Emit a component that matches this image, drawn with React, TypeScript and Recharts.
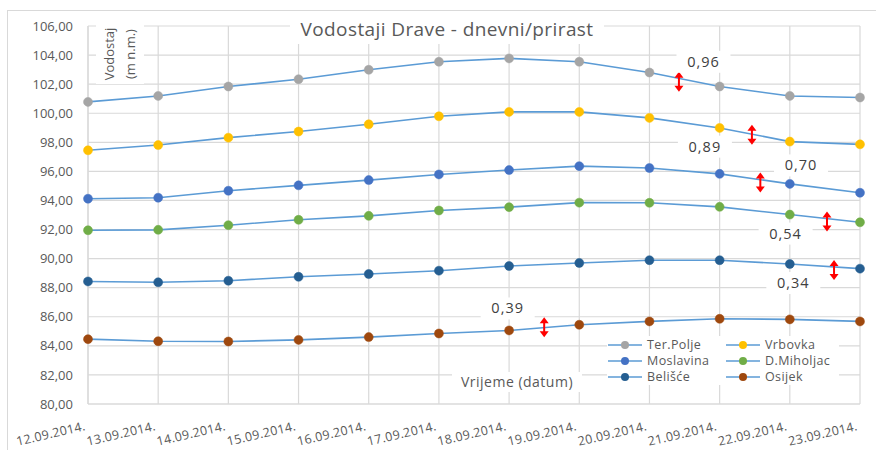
import React from 'react';
import { LineChart, Line, XAxis, YAxis, CartesianGrid, ReferenceDot } from 'recharts';

const dates = ['12.09.2014.', '13.09.2014.', '14.09.2014.', '15.09.2014.', '16.09.2014.', '17.09.2014.', '18.09.2014.', '19.09.2014.', '20.09.2014.', '21.09.2014.', '22.09.2014.', '23.09.2014.'];

const terPolje = [100.78, 101.19, 101.84, 102.34, 102.99, 103.54, 103.77, 103.54, 102.80, 101.84, 101.19, 101.08];
const vrbovka = [97.45, 97.81, 98.32, 98.74, 99.24, 99.79, 100.09, 100.09, 99.68, 98.99, 98.05, 97.86];
const moslavina = [94.12, 94.19, 94.67, 95.04, 95.40, 95.79, 96.09, 96.36, 96.23, 95.83, 95.14, 94.53];
const dMiholjac = [91.95, 91.98, 92.30, 92.67, 92.94, 93.31, 93.54, 93.85, 93.84, 93.56, 93.03, 92.50];
const belisce = [88.43, 88.37, 88.48, 88.75, 88.94, 89.17, 89.49, 89.70, 89.89, 89.89, 89.63, 89.31];
const osijek = [84.46, 84.32, 84.30, 84.41, 84.60, 84.85, 85.06, 85.45, 85.68, 85.86, 85.82, 85.68];

const yTicks = [80, 82, 84, 86, 88, 90, 92, 94, 96, 98, 100, 102, 104, 106];

const deltaLabels = ['0,96', '0,89', '0,70', '0,54', '0,34', '0,39'];
const arrowX = [8.42, 9.46, 9.58, 10.53, 10.63, 6.5];
const arrowY = [102.17, 98.52, 95.24, 92.55, 89.21, 85.28];
const labelX = [8.77, 8.79, 10.16, 9.94, 10.05, 5.98];
const labelY = [103.54, 97.7, 96.41, 91.72, 88.32, 86.57];

const series = [
  { key: 'terPolje', name: 'Ter.Polje', values: terPolje, color: '#A5A5A5' },
  { key: 'vrbovka', name: 'Vrbovka', values: vrbovka, color: '#FFC000' },
  { key: 'moslavina', name: 'Moslavina', values: moslavina, color: '#4472C4' },
  { key: 'dMiholjac', name: 'D.Miholjac', values: dMiholjac, color: '#70AD47' },
  { key: 'belisce', name: 'Belišće', values: belisce, color: '#255E91' },
  { key: 'osijek', name: 'Osijek', values: osijek, color: '#9E480E' },
];

const rows = dates.map((d, i) => {
  const r: Record<string, number | string> = { i, date: d };
  series.forEach((s) => {
    r[s.key] = s.values[i];
  });
  return r;
});

const LINE = '#5B9BD5';
const GRID = '#d9d9d9';
const TEXT = '#595959';
const FONT = '"Open Sans", sans-serif';

const XTick = (props: any) => {
  const { x, y, payload } = props;
  const tx = x - 2;
  const ty = y + 18;
  return (
    <text x={tx} y={ty} textAnchor="end" fill={TEXT} fontSize={12.5} fontFamily={FONT} letterSpacing={0.3} transform={`rotate(-13, ${tx}, ${ty})`}>
      {dates[payload.value]}
    </text>
  );
};

const Arrow = (props: any) => {
  const { cx, cy } = props;
  if (cx == null || cy == null) return null;
  const h = 10;
  return (
    <g>
      <line x1={cx} y1={cy - h + 4} x2={cx} y2={cy + h - 4} stroke="#FF0000" strokeWidth={2} />
      <polygon points={`${cx},${cy - h} ${cx - 4.5},${cy - h + 6} ${cx + 4.5},${cy - h + 6}`} fill="#FF0000" />
      <polygon points={`${cx},${cy + h} ${cx - 4.5},${cy + h - 6} ${cx + 4.5},${cy + h - 6}`} fill="#FF0000" />
    </g>
  );
};

const makeLabel = (text: string) => (props: any) => {
  const { cx, cy } = props;
  if (cx == null || cy == null) return null;
  return (
    <g>
      <rect x={cx - 27} y={cy - 11} width={54} height={22} fill="#ffffff" />
      <text x={cx} y={cy + 5} textAnchor="middle" fill="#404040" fontSize={14.5} fontFamily={FONT} letterSpacing={1}>
        {text}
      </text>
    </g>
  );
};

export default function App() {
  return (
    <div style={{ position: 'absolute', left: 0, top: 0, width: 876, height: 450, background: '#fff', fontFamily: FONT }}>
      <div style={{ position: 'absolute', left: 7, top: 10, width: 869, height: 440, borderTop: `1px solid ${GRID}`, borderLeft: `1px solid ${GRID}` }} />
      <div style={{ position: 'absolute', left: 0, top: 0 }}>
        <LineChart width={876} height={450} data={rows} margin={{ top: 26, right: 16, left: 18, bottom: 10 }}>
          <CartesianGrid stroke={GRID} strokeWidth={1.2} />
          <XAxis
            dataKey="i"
            type="number"
            domain={[0, 11]}
            ticks={dates.map((_, i) => i)}
            interval={0}
            height={36}
            tick={<XTick />}
            tickLine={false}
            axisLine={{ stroke: GRID, strokeWidth: 1.2 }}
          />
          <YAxis
            type="number"
            domain={[80, 106]}
            ticks={yTicks}
            interval={0}
            width={70}
            tickLine={false}
            tickMargin={9}
            axisLine={{ stroke: GRID, strokeWidth: 1.2 }}
            tick={{ fill: TEXT, fontSize: 13, fontFamily: FONT }}
            tickFormatter={(v: number) => v.toFixed(2).replace('.', ',')}
          />
          {series.map((s) => (
            <Line
              key={s.key}
              dataKey={s.key}
              name={s.name}
              stroke={LINE}
              strokeWidth={1.6}
              isAnimationActive={false}
              dot={{ r: 4.5, fill: s.color, stroke: s.color, strokeWidth: 0.5 }}
              activeDot={false}
            />
          ))}
          {deltaLabels.map((t, k) => (
            <ReferenceDot key={`a${k}`} x={arrowX[k]} y={arrowY[k]} r={0} shape={<Arrow />} ifOverflow="visible" />
          ))}
          {deltaLabels.map((t, k) => (
            <ReferenceDot key={`l${k}`} x={labelX[k]} y={labelY[k]} r={0} shape={makeLabel(t)} ifOverflow="visible" />
          ))}
        </LineChart>
      </div>
      <div style={{ position: 'absolute', left: 290, top: 14, width: 314, height: 30, background: '#fff', color: TEXT, fontSize: 19, letterSpacing: 0.4, lineHeight: '30px', textAlign: 'center', whiteSpace: 'nowrap' }}>
        Vodostaji Drave - dnevni/prirast
      </div>
      <div style={{ position: 'absolute', left: 96, top: 24, width: 48, height: 60, background: '#fff' }}>
        <div style={{ position: 'absolute', left: 24, top: 30, transform: 'translate(-50%, -50%) rotate(-90deg)', color: TEXT, fontSize: 13, lineHeight: '21px', textAlign: 'center', whiteSpace: 'nowrap' }}>
          Vodostaj<br />(m n.m.)
        </div>
      </div>
      <div style={{ position: 'absolute', left: 452, top: 372, width: 130, height: 20, background: '#fff', color: TEXT, fontSize: 14, letterSpacing: 0.5, lineHeight: '20px', textAlign: 'center', whiteSpace: 'nowrap' }}>
        Vrijeme (datum)
      </div>
      <div style={{ position: 'absolute', left: 607, top: 336, width: 232, height: 49, background: '#fff', display: 'grid', gridTemplateColumns: '118px 114px', gridAutoRows: '16px', alignContent: 'center' }}>
        {series.map((s) => (
          <div key={s.key} style={{ display: 'flex', alignItems: 'center', height: 16, color: TEXT, fontSize: 12.5, letterSpacing: 0.4, lineHeight: '16px', whiteSpace: 'nowrap' }}>
            <svg width={36} height={12} style={{ marginRight: 4, flex: 'none' }}>
              <line x1={1} y1={6} x2={35} y2={6} stroke={LINE} strokeWidth={1.6} />
              <circle cx={18} cy={6} r={4} fill={s.color} />
            </svg>
            <span style={{ lineHeight: '16px' }}>{s.name}</span>
          </div>
        ))}
      </div>
    </div>
  );
}
